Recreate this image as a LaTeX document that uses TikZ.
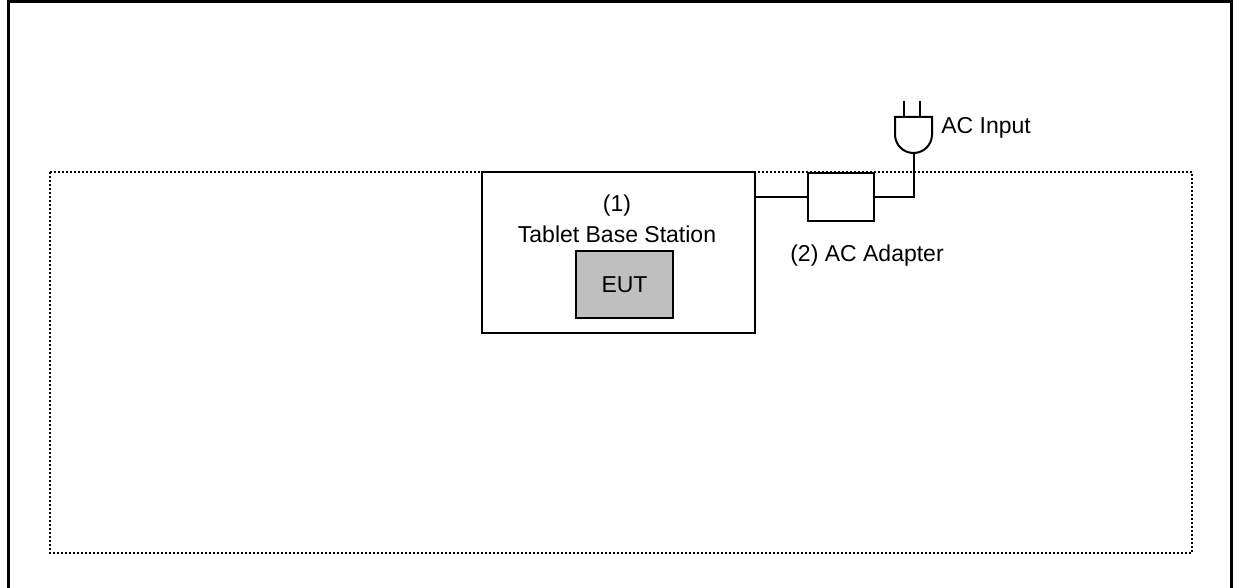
\documentclass[tikz,border=0pt]{standalone}
\usepackage{fontspec}
\setmainfont{Liberation Sans}
\usetikzlibrary{positioning,calc}

\begin{document}
\begin{tikzpicture}[x=0.5pt, y=-0.5pt, font=\fontsize{11.5}{13.8}\selectfont,
    unit/.style={draw, rectangle, line width=1pt, inner sep=0pt},
    label/.style={inner sep=0pt}]
    \useasboundingbox (0,0) rectangle (1239,588);
    % frame and test area
    \draw [line width=1.5pt] (8,590) -- (8,2) -- (1231,2) -- (1231,590);
    \draw [line width=1pt, dash pattern=on 1pt off 1pt] (50,172) rectangle (1192,553);

    \node (station) [unit, minimum width=136.5pt, minimum height=80.5pt] at (618.5,252.5) {};
    \node (num1) [label] at (617,206) {(1)};
    \node (stationname) [label] at (617,234) {Tablet Base Station};
    \node (eut) [unit, fill=black!25, minimum width=48.5pt, minimum height=33.5pt] at (624.5,284.5) {EUT};
    \node (adapter) [unit, minimum width=33pt, minimum height=24pt] at (841,197) {};
    \node (adaptername) [label] at (867,256) {(2) AC Adapter};

    % plug
    \draw [line width=1pt] (895,117) -- (932,117) -- (932,134.5) arc (0:180:18.5) -- cycle;
    \draw [line width=1pt] (904,117) -- (904,101) (920,117) -- (920,101);
    \coordinate (plugbot) at (913.5,153);
    \node (acin) [label, anchor=west] at (941,128) {AC Input};

    \draw [line width=1pt] (adapter.west) -- (adapter.west -| station.east);
    \draw [line width=1pt] (adapter.east) -| (plugbot);
\end{tikzpicture}
\end{document}
